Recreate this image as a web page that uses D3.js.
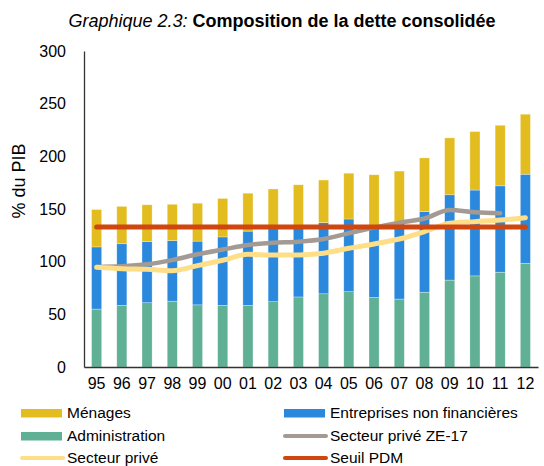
<!DOCTYPE html>
<html>
<head>
<meta charset="utf-8">
<script src="https://cdn.jsdelivr.net/npm/d3@7"></script>
<style>
  body { margin: 0; background: #fff; }
  text { font-family: "Liberation Sans", Arial, sans-serif; fill: #000; }
</style>
</head>
<body>
<div id="chart"></div>
<script>
// years on the x axis
var years = ["95","96","97","98","99","00","01","02","03","04","05","06","07","08","09","10","11","12"];

// stacked bars (% du PIB)
var administration = [55, 58.5, 61, 62.5, 59, 58.5, 58.5, 62, 66.5, 69.5, 71.5, 66, 64.5, 71, 82.5, 86.5, 90, 98.5];
var entreprises = [59, 58.5, 58, 57.5, 60.5, 65, 70.5, 69.5, 67.5, 67.5, 69, 68, 73.5, 76.5, 81, 81.5, 82, 84.5];
var menages = [35.5, 35.5, 35, 34.5, 36, 36.5, 36, 37.5, 39, 40.5, 43.5, 48.5, 48, 51, 54, 55.5, 57.5, 57];

// lines
var priveZE = [95, 95.6, 97.5, 101.5, 107, 111.5, 115.8, 118, 119, 121.5, 127, 132.3, 137, 141, 149, 147, 146, null];
var prive = [94.6, 93.3, 92.7, 91.4, 96.2, 101.3, 107, 106.3, 106.3, 108, 112.7, 116.8, 121.5, 128.5, 136.4, 138, 139.5, 141.7];
var seuilPDM = [133, 133, 133, 133, 133, 133, 133, 133, 133, 133, 133, 133, 133, 133, 133, 133, 133, 133];

var yTicks = [0, 50, 100, 150, 200, 250, 300];

var colors = {
    menages: "#E3BD20",
    entreprises: "#2A88DD",
    administration: "#5FB094",
    priveZE: "#A39A93",
    prive: "#FFDE88",
    seuil: "#D0460F"
};

var width = 544, height = 466;
var margin = { top: 51, right: 6, bottom: 99, left: 84 };

var svg = d3.select("#chart")
    .append("svg")
    .attr("width", width)
    .attr("height", height);

var x = d3.scaleBand()
    .domain(years)
    .range([margin.left, width - margin.right])
    .paddingInner(0.6)
    .paddingOuter(0.3);

var y = d3.scaleLinear()
    .domain([0, 300])
    .range([height - margin.bottom, margin.top]);

// title
var title = svg.append("text")
    .attr("x", 282)
    .attr("y", 27)
    .attr("text-anchor", "middle")
    .style("font-size", "18px");
title.append("tspan").style("font-style", "italic").text("Graphique 2.3: ");
title.append("tspan").style("font-weight", "bold").text("Composition de la dette consolidée");

// stacked data
var rows = years.map(function (d, i) {
    return { year: d, administration: administration[i], entreprises: entreprises[i], menages: menages[i] };
});
var stack = d3.stack().keys(["administration", "entreprises", "menages"]);
var series = stack(rows);

svg.append("g")
    .selectAll("g")
    .data(series)
    .enter()
    .append("g")
    .attr("fill", function (d) { return colors[d.key]; })
    .selectAll("rect")
    .data(function (d) { return d; })
    .enter()
    .append("rect")
    .attr("x", function (d) { return x(d.data.year); })
    .attr("y", function (d) { return y(d[1]); })
    .attr("width", x.bandwidth())
    .attr("height", function (d) { return y(d[0]) - y(d[1]); })
    .attr("stroke", "#fff")
    .attr("stroke-opacity", 0.5)
    .attr("stroke-width", 0.6);

// axes
svg.append("g")
    .attr("transform", "translate(" + margin.left + ",0)")
    .call(d3.axisLeft(y).tickValues(yTicks).tickSize(0).tickPadding(18))
    .call(function (g) {
        g.select(".domain").attr("stroke", "#333").attr("stroke-width", 1.3);
        g.selectAll("text").style("font-size", "16px").attr("fill", "#000");
    });

svg.append("g")
    .attr("transform", "translate(0," + y(0) + ")")
    .call(d3.axisBottom(x).tickSize(0).tickPadding(11))
    .call(function (g) {
        g.select(".domain").attr("stroke", "#333").attr("stroke-width", 1.3);
        g.selectAll("text").style("font-size", "16px").attr("fill", "#000");
    });

svg.append("text")
    .attr("transform", "translate(25," + 181 + ") rotate(-90)")
    .attr("text-anchor", "middle")
    .style("font-size", "18px")
    .text("% du PIB");

// lines
function drawLine(values, color, w) {
    var line = d3.line()
        .defined(function (d) { return d != null; })
        .x(function (d, i) { return x(years[i]) + x.bandwidth() / 2; })
        .y(function (d) { return y(d); })
        .curve(d3.curveMonotoneX);
    svg.append("path")
        .datum(values)
        .attr("d", line)
        .attr("fill", "none")
        .attr("stroke", color)
        .attr("stroke-width", w)
        .attr("stroke-linecap", "round")
        .attr("stroke-linejoin", "round");
}
drawLine(priveZE, colors.priveZE, 4.5);
drawLine(prive, colors.prive, 5);
drawLine(seuilPDM, colors.seuil, 5);

// legend
var legendItems = [
    { label: "Ménages", color: colors.menages, type: "rect", col: 0, row: 0 },
    { label: "Entreprises non financières", color: colors.entreprises, type: "rect", col: 1, row: 0 },
    { label: "Administration", color: colors.administration, type: "rect", col: 0, row: 1 },
    { label: "Secteur privé ZE-17", color: colors.priveZE, type: "line", col: 1, row: 1 },
    { label: "Secteur privé", color: colors.prive, type: "line", col: 0, row: 2 },
    { label: "Seuil PDM", color: colors.seuil, type: "line", col: 1, row: 2 }
];
var colX = [21, 284];
var rowY = [413, 436, 458];

var legend = svg.append("g");
legendItems.forEach(function (d) {
    var lx = colX[d.col], ly = rowY[d.row];
    if (d.type === "rect") {
        legend.append("rect")
            .attr("x", lx).attr("y", ly - 4)
            .attr("width", 41).attr("height", 8.5)
            .attr("fill", d.color);
    } else {
        legend.append("line")
            .attr("x1", lx + 1).attr("x2", lx + 42)
            .attr("y1", ly).attr("y2", ly)
            .attr("stroke", d.color)
            .attr("stroke-width", 4)
            .attr("stroke-linecap", "round");
    }
    legend.append("text")
        .attr("x", lx + 46)
        .attr("y", ly)
        .attr("dy", "0.35em")
        .style("font-size", "15.5px")
        .text(d.label);
});
</script>
</body>
</html>
